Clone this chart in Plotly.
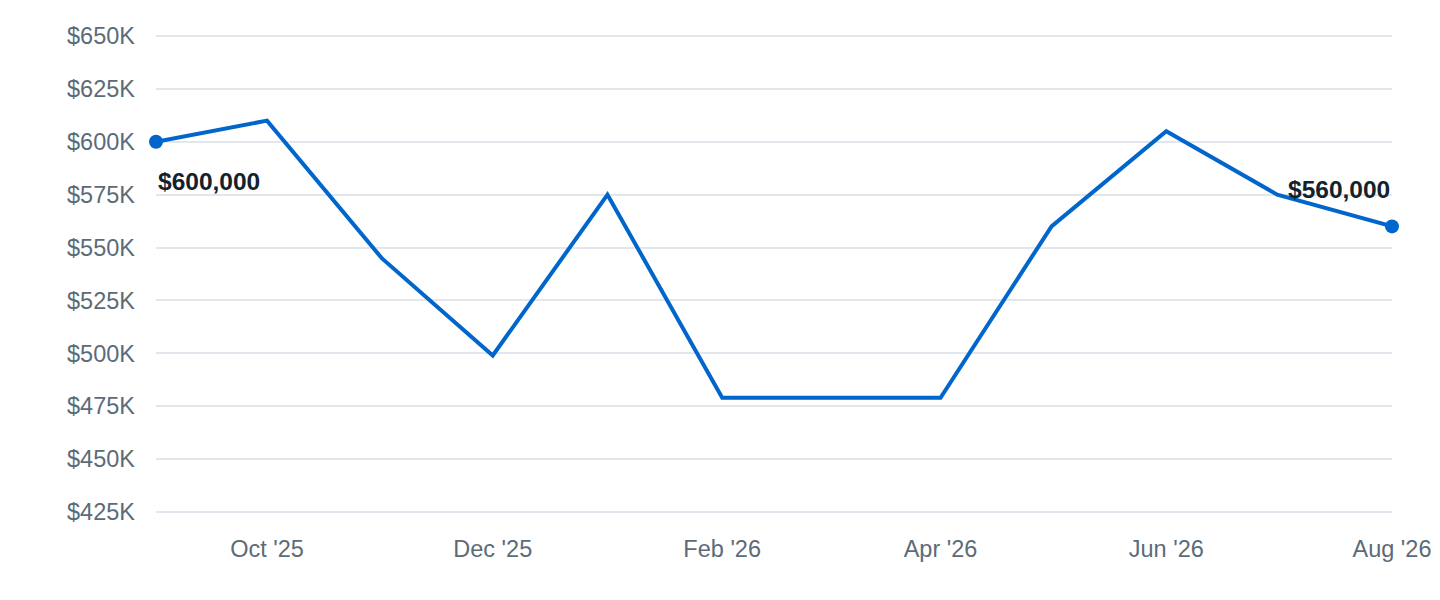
import plotly.graph_objects as go

months = ["2025-09-01", "2025-10-01", "2025-11-01", "2025-12-01", "2026-01-01", "2026-02-01",
          "2026-03-01", "2026-04-01", "2026-05-01", "2026-06-01", "2026-07-01", "2026-08-01"]
values = [600000, 610000, 545000, 499000, 575000, 479000,
          479000, 479000, 560000, 605000, 575000, 560000]
y_ticks = [425000, 450000, 475000, 500000, 525000, 550000, 575000, 600000, 625000, 650000]
y_tick_labels = [f"${v // 1000}K" for v in y_ticks]

LINE = "#0066CC"
FONT = "Liberation Sans, Arial, Helvetica, sans-serif"
PAD = 1420  # small range padding so edge gridlines are drawn

fig = go.Figure()
fig.add_trace(go.Scatter(x=months, y=values, mode="lines",
                         line=dict(color=LINE, width=4), hoverinfo="skip"))
fig.add_trace(go.Scatter(x=[months[0], months[-1]], y=[values[0], values[-1]], mode="markers",
                         marker=dict(color=LINE, size=14), hoverinfo="skip", cliponaxis=False))

fig.add_annotation(x=months[0], y=values[0], text=f"<b>${values[0]:,.0f}</b>", showarrow=False,
                   xanchor="left", yanchor="middle", yshift=-40, xshift=0,
                   font=dict(family=FONT, size=24.5, color="#13222d"))
fig.add_annotation(x=months[-1], y=values[-1], text=f"<b>${values[-1]:,.0f}</b>", showarrow=False,
                   xanchor="right", yanchor="middle", yshift=37, xshift=0,
                   font=dict(family=FONT, size=24.5, color="#13222d"))

fig.update_layout(
    width=1440, height=600,
    margin=dict(l=148, r=56, t=25, b=93),
    paper_bgcolor="white", plot_bgcolor="white",
    showlegend=False,
    font=dict(family=FONT, size=23.5, color="#5c6b78"),
)
fig.update_xaxes(type="date", range=[months[0], months[-1]], showgrid=False, zeroline=False,
                 showline=False, tick0="2025-10-01", dtick="M2", tickformat="%b '%y",
                 ticks="", ticklabelstandoff=17, tickfont=dict(size=23.5, color="#5c6b78"))
fig.update_yaxes(range=[y_ticks[0] - PAD, y_ticks[-1] + PAD], tickvals=y_ticks, ticktext=y_tick_labels,
                 showgrid=True, gridcolor="#e3e7ed", gridwidth=2, zeroline=False, showline=False,
                 ticks="", ticklabelstandoff=20, tickfont=dict(size=23.5, color="#5c6b78"))

fig.write_html("out.html")
